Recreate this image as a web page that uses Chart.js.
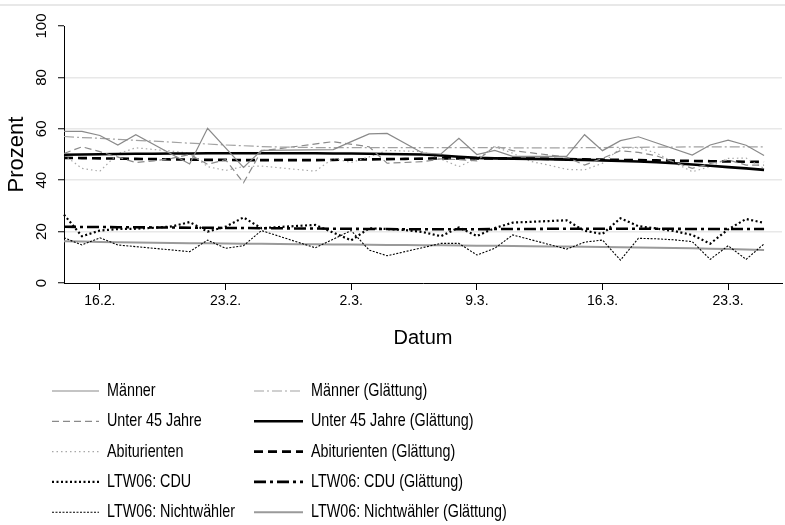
<!DOCTYPE html>
<html><head><meta charset="utf-8">
<script src="https://cdn.jsdelivr.net/npm/chart.js@4.4.1/dist/chart.umd.min.js"></script>
<style>html,body{margin:0;padding:0;background:#fff;overflow:hidden;}</style>
</head><body>
<canvas id="c" width="785" height="525"></canvas>
<script>
// ---- data ----
const dates = ['14.2.','15.2.','16.2.','17.2.','18.2.','19.2.','20.2.','21.2.','22.2.','23.2.','24.2.','25.2.','26.2.','27.2.','28.2.',
  '1.3.','2.3.','3.3.','4.3.','5.3.','6.3.','7.3.','8.3.','9.3.','10.3.','11.3.','12.3.','13.3.','14.3.','15.3.','16.3.','17.3.','18.3.',
  '19.3.','20.3.','21.3.','22.3.','23.3.','24.3.','25.3.','26.3.'];
const tickDates = ['16.2.','23.2.','2.3.','9.3.','16.3.','23.3.'];
const yTickLabels = [0, 20, 40, 60, 80, 100];
const yGridValues = [20, 40, 60, 80];

const maenner = [59.0,59.0,57.4,53.7,57.7,null,null,46.3,60.2,null,45.0,51.6,null,null,null,51.9,55.0,58.0,58.2,null,
  50.5,50.2,56.3,50.0,51.6,49.3,null,null,49.3,57.7,51.5,55.4,56.9,null,null,49.8,53.7,55.6,53.6,49.6];
const maennerG = [57.0,56.6,56.3,55.9,55.5,55.2,54.8,54.4,54.1,53.7,53.4,53.1,52.9,52.8,52.7,52.7,52.7,52.7,52.7,52.7,
  52.7,52.7,52.7,52.7,52.7,52.6,52.6,52.6,52.6,52.7,52.7,52.8,52.8,52.9,52.9,53.0,53.0,53.0,53.0,53.0];
const unter45 = [50.4,53.0,51.1,null,46.9,47.5,48.5,50.0,46.2,48.0,39.0,51.4,null,null,null,55.0,null,53.0,46.6,null,
  47.2,48.3,48.0,47.5,53.3,51.5,null,null,49.0,45.9,48.5,51.5,50.8,49.5,null,44.6,46.5,47.9,45.9,45.9];
const unter45G = [49.9,50.0,50.1,50.2,50.3,50.3,50.4,50.4,50.5,50.5,50.5,50.5,50.5,50.5,50.5,50.4,50.4,50.3,50.2,50.1,
  50.0,49.6,49.1,48.7,48.5,48.4,48.3,48.2,48.0,47.9,47.7,47.5,47.3,47.0,46.6,46.1,45.6,45.1,44.6,44.0];
const abitur = [49.8,44.6,43.5,50.3,52.6,null,51.3,50.5,45.3,43.8,45.3,45.5,null,null,43.5,48.5,46.9,49.1,51.6,null,
  51.1,null,45.3,48.5,53.0,50.5,47.3,45.9,44.2,44.0,46.6,52.5,52.6,50.6,46.8,43.3,45.3,48.5,48.6,44.6];
const abiturG = [48.7,48.6,48.5,48.4,48.3,48.2,48.1,48.0,47.9,47.9,47.8,47.8,47.8,47.8,47.8,47.9,48.0,48.1,48.2,48.3,
  48.4,48.5,48.5,48.5,48.5,48.5,48.4,48.3,48.2,48.1,48.0,47.9,47.8,47.7,47.6,47.5,47.4,47.3,47.2,47.1];
const cdu = [26.6,18.2,20.4,21.0,21.1,21.5,22.0,23.7,20.0,21.9,25.5,21.3,21.8,22.2,22.6,null,16.6,21.3,21.0,20.6,
  19.8,18.2,21.6,18.3,21.4,23.5,23.8,24.1,24.4,20.3,19.1,25.2,22.1,21.2,20.2,18.7,15.3,20.9,24.9,23.4];
const cduG = [21.9,21.8,21.8,21.7,21.7,21.6,21.6,21.5,21.5,21.4,21.4,21.3,21.3,21.2,21.2,21.1,21.1,21.0,21.0,20.9,
  20.9,20.9,20.9,20.9,21.0,21.0,21.0,21.1,21.1,21.1,21.1,21.1,21.1,21.1,21.1,21.0,21.0,21.0,21.0,21.0];
const nichtw = [17.6,14.8,17.6,14.8,null,null,null,12.2,16.7,13.5,14.5,20.4,null,null,13.7,null,20.4,12.8,10.6,null,
  null,15.4,15.4,10.9,13.5,18.7,null,null,13.2,15.9,16.7,8.9,17.4,17.2,16.8,16.1,9.2,14.5,9.2,15.2];
const nichtwG = [16.2,16.1,16.0,15.9,15.8,15.7,15.6,15.5,15.5,15.4,15.3,15.3,15.2,15.1,15.1,15.0,15.0,14.9,14.8,14.8,
  14.7,14.7,14.6,14.5,14.5,14.4,14.3,14.2,14.2,14.1,14.0,13.9,13.8,13.7,13.6,13.5,13.3,13.2,13.0,12.8];

const seriesNames = ['Männer','Männer (Glättung)','Unter 45 Jahre','Unter 45 Jahre (Glättung)','Abiturienten','Abiturienten (Glättung)',
  'LTW06: CDU','LTW06: CDU (Glättung)','LTW06: Nichtwähler','LTW06: Nichtwähler (Glättung)'];
const seriesValues = [maenner, maennerG, unter45, unter45G, abitur, abiturG, cdu, cduG, nichtw, nichtwG];

// ---- styles ----
const FONT = "'Liberation Sans',Arial,sans-serif";
const styles = [
  {c:'#8a8a8a', w:1.2, d:[]},
  {c:'#a2a2a2', w:1.2, d:[10,3,2,3]},
  {c:'#8a8a8a', w:1.2, d:[7,4]},
  {c:'#000000', w:2.6, d:[]},
  {c:'#a8a8a8', w:1.2, d:[1.5,3]},
  {c:'#000000', w:2.6, d:[9,5]},
  {c:'#000000', w:2.2, d:[2,2.5]},
  {c:'#000000', w:2.6, d:[12,4,3,4]},
  {c:'#000000', w:1.1, d:[2,1.5]},
  {c:'#9a9a9a', w:2.0, d:[]}
];

const datasets = seriesNames.map((n,i)=>({
  label:n, data:seriesValues[i], borderColor:styles[i].c, borderWidth:styles[i].w, borderDash:styles[i].d,
  pointRadius:0, pointHoverRadius:0, fill:false, tension:0, spanGaps:true
}));

const decor = {
  id:'decor',
  beforeDraw(chart){
    const ctx = chart.ctx;
    ctx.save();
    ctx.fillStyle='#fff'; ctx.fillRect(0,0,chart.width,chart.height);
    ctx.strokeStyle='#e8e8e8'; ctx.lineWidth=2;
    ctx.beginPath(); ctx.moveTo(0,5); ctx.lineTo(chart.width,5); ctx.stroke();
    ctx.restore();
  },
  afterDraw(chart){
    const ctx = chart.ctx;
    ctx.save();
    ctx.font = "18.5px " + FONT;
    ctx.textBaseline = 'middle';
    ctx.fillStyle = '#000';
    chart.data.datasets.forEach((ds,i)=>{
      const col = i % 2, row = Math.floor(i/2);
      const y = 391 + row*30.3;
      const x0 = col ? 254 : 52, x1 = col ? 303 : 99, tx = col ? 311 : 107;
      ctx.save();
      ctx.strokeStyle = ds.borderColor; ctx.lineWidth = ds.borderWidth; ctx.setLineDash(ds.borderDash);
      ctx.beginPath(); ctx.moveTo(x0,y); ctx.lineTo(x1,y); ctx.stroke();
      ctx.restore();
      ctx.save();
      ctx.translate(tx, y);
      ctx.scale(0.775, 1);
      ctx.fillText(ds.label, 0, 0);
      ctx.restore();
    });
    ctx.restore();
  }
};

Chart.defaults.font.family = FONT;
Chart.defaults.color = '#000';

new Chart(document.getElementById('c'), {
  type:'line',
  data:{labels:dates, datasets},
  options:{
    responsive:false, animation:false, devicePixelRatio:1,
    layout:{padding:{top:26,bottom:172,left:0,right:1}},
    plugins:{legend:{display:false}, tooltip:{enabled:false}},
    scales:{
      x:{
        type:'category', offset:false,
        grid:{drawOnChartArea:false, drawTicks:true, tickLength:7,
          tickColor:(c)=> (c.tick && tickDates.includes(c.tick.label)) ? '#000' : 'rgba(0,0,0,0)', tickWidth:1},
        border:{display:true,color:'#000',width:1},
        ticks:{autoSkip:false, maxRotation:0, minRotation:0, padding:3, font:{size:14},
          callback:function(v,i){ const l = dates[i]; return tickDates.includes(l) ? l : ''; }},
        title:{display:true, text:'Datum', font:{size:20}, padding:{top:0,bottom:3}},
        afterFit(s){ s.height = 70; }
      },
      y:{
        min:0, max:100,
        grid:{drawOnChartArea:true, lineWidth:1.5,
          color:(c)=> (c.tick && yGridValues.includes(c.tick.value)) ? '#e8e8e8' : 'rgba(0,0,0,0)',
          tickColor:'#000', tickWidth:1, tickLength:6},
        border:{display:true,color:'#000',width:1},
        ticks:{stepSize:10, minRotation:90, maxRotation:90, crossAlign:'center', padding:4, font:{size:15},
          callback:(v)=> yTickLabels.includes(v) ? String(v) : ''},
        title:{display:true, text:'Prozent', font:{size:22}, padding:{top:4,bottom:0}},
        afterFit(s){ s.width = 64; }
      }
    }
  },
  plugins:[decor]
});
</script>
</body></html>
